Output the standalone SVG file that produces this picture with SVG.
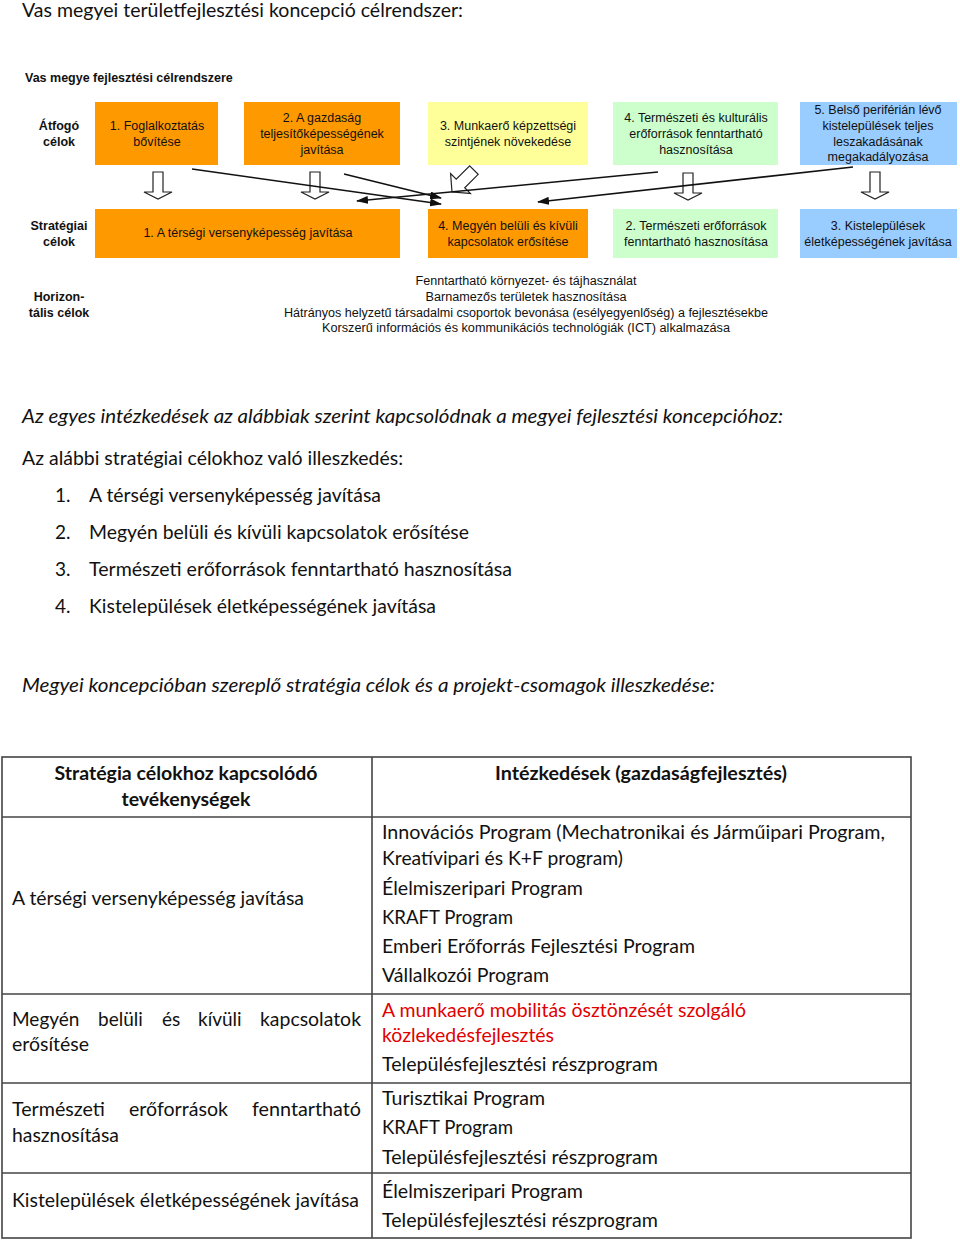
<svg xmlns="http://www.w3.org/2000/svg" width="960" height="1240" viewBox="0 0 960 1240">
<style>
.a{font-family:"Liberation Sans",Arial,sans-serif;font-size:12.5px;fill:#111;text-anchor:middle}
.ab{font-family:"Liberation Sans",Arial,sans-serif;font-size:12.5px;fill:#111;text-anchor:middle;font-weight:bold}
.h{font-family:"Liberation Sans",Arial,sans-serif;font-size:12.5px;fill:#111;text-anchor:middle}
.c{font-family:Lato,"Open Sans",sans-serif;font-size:19px;fill:#111}
.ci{font-family:Lato,"Open Sans",sans-serif;font-size:19px;fill:#111;font-style:italic}
.cb{font-family:Lato,"Open Sans",sans-serif;font-size:19px;fill:#111;font-weight:bold;text-anchor:middle}
.red{fill:#e00000}
.or{fill:#ff9900}.ye{fill:#ffff99}.gr{fill:#ccffcc}.bl{fill:#99ccff}
.ho{fill:#fff;stroke:#222;stroke-width:1.2}
.ln{stroke:#111;stroke-width:1.6;fill:none}
.tb{stroke:#444;stroke-width:1.6;fill:none}
</style>
<defs>
<marker id="ah" markerUnits="userSpaceOnUse" markerWidth="12" markerHeight="8" refX="11" refY="4" orient="auto">
<path d="M0,0 L12,4 L0,8 z" fill="#111"/>
</marker>
</defs>
<rect width="960" height="1240" fill="#fff"/>

<text class="c" x="22" y="17" textLength="441" lengthAdjust="spacingAndGlyphs">Vas megyei területfejlesztési koncepció célrendszer:</text>
<text x="25" y="82" style="font-family:'Liberation Sans',Arial,sans-serif;font-size:12.5px;font-weight:bold;fill:#111">Vas megye fejlesztési célrendszere</text>

<g id="labels">
<text class="ab" x="59" y="130">Átfogó</text><text class="ab" x="59" y="146">célok</text>
<text class="ab" x="59" y="230">Stratégiai</text><text class="ab" x="59" y="246">célok</text>
<text class="ab" x="59" y="301">Horizon-</text><text class="ab" x="59" y="317">tális célok</text>
</g>

<g id="t1"><rect class="or" x="95" y="102" width="123" height="63"/>
<text class="a" x="157" y="130">1. Foglalkoztatás</text><text class="a" x="157" y="146">bővítése</text></g>
<g id="t2"><rect class="or" x="244" y="102" width="156" height="63"/>
<text class="a" x="322" y="122">2. A gazdaság</text><text class="a" x="322" y="138">teljesítőképességének</text><text class="a" x="322" y="154">javítása</text></g>
<g id="t3"><rect class="ye" x="428" y="102" width="160" height="63"/>
<text class="a" x="508" y="130">3. Munkaerő képzettségi</text><text class="a" x="508" y="146">szintjének növekedése</text></g>
<g id="t4"><rect class="gr" x="613" y="102" width="165" height="63"/>
<text class="a" x="696" y="122">4. Természeti és kulturális</text><text class="a" x="696" y="138">erőforrások fenntartható</text><text class="a" x="696" y="154">hasznosítása</text></g>
<g id="t5"><rect class="bl" x="800" y="102" width="157" height="63"/>
<text class="a" x="878" y="114">5. Belső periférián lévő</text><text class="a" x="878" y="130">kistelepülések teljes</text><text class="a" x="878" y="146">leszakadásának</text><text class="a" x="878" y="161">megakadályozása</text></g>

<g id="s1"><rect class="or" x="95" y="209" width="305" height="49"/>
<text class="a" x="248" y="237">1. A térségi versenyképesség javítása</text></g>
<g id="s4"><rect class="or" x="428" y="209" width="160" height="49"/>
<text class="a" x="508" y="230">4. Megyén belüli és kívüli</text><text class="a" x="508" y="246">kapcsolatok erősítése</text></g>
<g id="s2"><rect class="gr" x="613" y="209" width="165" height="49"/>
<text class="a" x="696" y="230">2. Természeti erőforrások</text><text class="a" x="696" y="246">fenntartható hasznosítása</text></g>
<g id="s3"><rect class="bl" x="800" y="209" width="157" height="49"/>
<text class="a" x="878" y="230">3. Kistelepülések</text><text class="a" x="878" y="246">életképességének javítása</text></g>

<g id="horizontal">
<text class="h" x="526" y="285" textLength="221" lengthAdjust="spacingAndGlyphs">Fenntartható környezet- és tájhasználat</text>
<text class="h" x="526" y="301" textLength="201" lengthAdjust="spacingAndGlyphs">Barnamezős területek hasznosítása</text>
<text class="h" x="526" y="317" textLength="484" lengthAdjust="spacingAndGlyphs">Hátrányos helyzetű társadalmi csoportok bevonása (esélyegyenlőség) a fejlesztésekbe</text>
<text class="h" x="526" y="332" textLength="408" lengthAdjust="spacingAndGlyphs">Korszerű információs és kommunikációs technológiák (ICT) alkalmazása</text>
</g>

<g id="connectors">
<path class="ho" d="M153,172 h10 v20 h9 l-14,7 l-14,-7 h9 z"/>
<path class="ho" d="M310,172 h10 v20 h9 l-14,7 l-14,-7 h9 z"/>
<path class="ho" d="M683,173 h10 v20 h9 l-14,7 l-14,-7 h9 z"/>
<path class="ho" d="M870,172 h10 v20 h9 l-14,7 l-14,-7 h9 z"/>
<path class="ho" transform="translate(452,192) rotate(45)" d="M-6,-31 h12 v19 h8 l-14,12 l-14,-12 h8 z"/>
<line class="ln" x1="192" y1="169" x2="441" y2="204" marker-end="url(#ah)"/>
<line class="ln" x1="344" y1="174" x2="441" y2="198" marker-end="url(#ah)"/>
<line class="ln" x1="658" y1="172" x2="357" y2="201" marker-end="url(#ah)"/>
<line class="ln" x1="853" y1="167" x2="538" y2="202" marker-end="url(#ah)"/>
</g>

<g id="text-section">
<text class="ci" x="22" y="423" textLength="761" lengthAdjust="spacingAndGlyphs">Az egyes intézkedések az alábbiak szerint kapcsolódnak a megyei fejlesztési koncepcióhoz:</text>
<text class="c" x="22" y="465" textLength="381" lengthAdjust="spacingAndGlyphs">Az alábbi stratégiai célokhoz való illeszkedés:</text>
<text class="c" x="55" y="502">1.</text><text class="c" x="89" y="502" textLength="292" lengthAdjust="spacingAndGlyphs">A térségi versenyképesség javítása</text>
<text class="c" x="55" y="539">2.</text><text class="c" x="89" y="539" textLength="380" lengthAdjust="spacingAndGlyphs">Megyén belüli és kívüli kapcsolatok erősítése</text>
<text class="c" x="55" y="576">3.</text><text class="c" x="89" y="576" textLength="423" lengthAdjust="spacingAndGlyphs">Természeti erőforrások fenntartható hasznosítása</text>
<text class="c" x="55" y="613">4.</text><text class="c" x="89" y="613" textLength="347" lengthAdjust="spacingAndGlyphs">Kistelepülések életképességének javítása</text>
<text class="ci" x="22" y="692" textLength="693" lengthAdjust="spacingAndGlyphs">Megyei koncepcióban szereplő stratégia célok és a projekt-csomagok illeszkedése:</text>
</g>

<g id="table">
<rect class="tb" x="2" y="757" width="909" height="481"/>
<line class="tb" x1="372" y1="757" x2="372" y2="1238"/>
<line class="tb" x1="2" y1="817" x2="911" y2="817"/>
<line class="tb" x1="2" y1="994" x2="911" y2="994"/>
<line class="tb" x1="2" y1="1083" x2="911" y2="1083"/>
<line class="tb" x1="2" y1="1173" x2="911" y2="1173"/>

<text class="cb" x="186" y="780" textLength="263" lengthAdjust="spacingAndGlyphs">Stratégia célokhoz kapcsolódó</text>
<text class="cb" x="186" y="806" textLength="129" lengthAdjust="spacingAndGlyphs">tevékenységek</text>
<text class="cb" x="641" y="780" textLength="292" lengthAdjust="spacingAndGlyphs">Intézkedések (gazdaságfejlesztés)</text>

<text class="c" x="12" y="905" textLength="292" lengthAdjust="spacingAndGlyphs">A térségi versenyképesség javítása</text>
<text class="c" x="382" y="839" textLength="503" lengthAdjust="spacingAndGlyphs">Innovációs Program (Mechatronikai és Járműipari Program,</text>
<text class="c" x="382" y="865" textLength="241" lengthAdjust="spacingAndGlyphs">Kreatívipari és K+F program)</text>
<text class="c" x="382" y="895" textLength="201" lengthAdjust="spacingAndGlyphs">Élelmiszeripari Program</text>
<text class="c" x="382" y="924" textLength="131" lengthAdjust="spacingAndGlyphs">KRAFT Program</text>
<text class="c" x="382" y="953" textLength="313" lengthAdjust="spacingAndGlyphs">Emberi Erőforrás Fejlesztési Program</text>
<text class="c" x="382" y="982" textLength="167" lengthAdjust="spacingAndGlyphs">Vállalkozói Program</text>

<text class="c" x="12" y="1026">Megyén</text><text class="c" x="98" y="1026">belüli</text><text class="c" x="162" y="1026">és</text><text class="c" x="198" y="1026">kívüli</text><text class="c" x="260" y="1026" textLength="101" lengthAdjust="spacingAndGlyphs">kapcsolatok</text>
<text class="c" x="12" y="1051" textLength="77" lengthAdjust="spacingAndGlyphs">erősítése</text>
<text class="c red" x="382" y="1017" textLength="364" lengthAdjust="spacingAndGlyphs">A munkaerő mobilitás ösztönzését szolgáló</text>
<text class="c red" x="382" y="1042" textLength="172" lengthAdjust="spacingAndGlyphs">közlekedésfejlesztés</text>
<text class="c" x="382" y="1071" textLength="276" lengthAdjust="spacingAndGlyphs">Településfejlesztési részprogram</text>

<text class="c" x="12" y="1116" textLength="93" lengthAdjust="spacingAndGlyphs">Természeti</text><text class="c" x="129" y="1116" textLength="99" lengthAdjust="spacingAndGlyphs">erőforrások</text><text class="c" x="252" y="1116" textLength="109" lengthAdjust="spacingAndGlyphs">fenntartható</text>
<text class="c" x="12" y="1142" textLength="107" lengthAdjust="spacingAndGlyphs">hasznosítása</text>
<text class="c" x="382" y="1105" textLength="163" lengthAdjust="spacingAndGlyphs">Turisztikai Program</text>
<text class="c" x="382" y="1134" textLength="131" lengthAdjust="spacingAndGlyphs">KRAFT Program</text>
<text class="c" x="382" y="1164" textLength="276" lengthAdjust="spacingAndGlyphs">Településfejlesztési részprogram</text>

<text class="c" x="12" y="1207" textLength="347" lengthAdjust="spacingAndGlyphs">Kistelepülések életképességének javítása</text>
<text class="c" x="382" y="1198" textLength="201" lengthAdjust="spacingAndGlyphs">Élelmiszeripari Program</text>
<text class="c" x="382" y="1227" textLength="276" lengthAdjust="spacingAndGlyphs">Településfejlesztési részprogram</text>
</g>
</svg>
